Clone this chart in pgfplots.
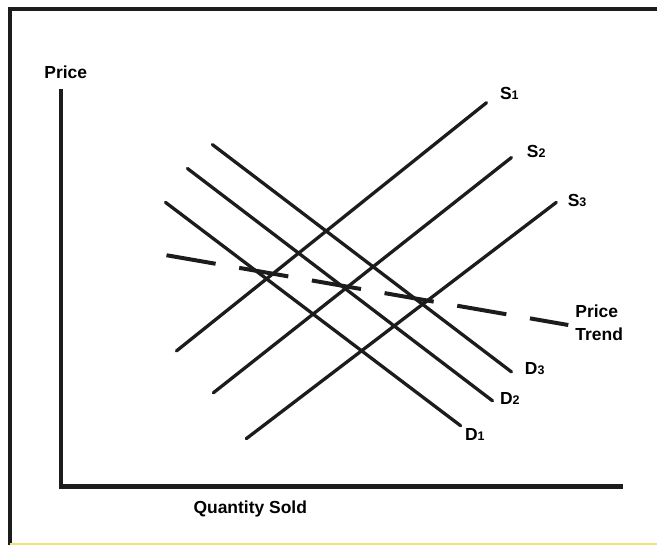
\documentclass[border=0pt]{standalone}
\usepackage{pgfplots}
\pgfplotsset{compat=1.18}
\usepackage{fontspec}
\setmainfont{Liberation Sans}
\definecolor{ink}{HTML}{1C1C1C}
\definecolor{scanyellow}{HTML}{F2E27A}
\newcommand{\lab}{\fontsize{17.5}{23}\selectfont\bfseries}
\newcommand{\sub}[1]{{\fontsize{12.5}{12}\selectfont #1}}
\begin{document}
\begin{tikzpicture}
\begin{axis}[
  hide axis, scale only axis,
  width=659pt, height=547pt,
  xmin=0, xmax=659, ymin=0, ymax=547,
  y dir=reverse, clip=false,
  every axis plot/.append style={ink, line cap=round, no markers},
]
\path (axis cs:0,0) rectangle (axis cs:659,547);
% frame of the scan
\addplot[line width=4pt, line cap=butt] coordinates {(10,547) (10,9) (659,9)};
\addplot[scanyellow, line width=2pt, line cap=butt] coordinates {(10,546) (659,546)};
% axes
\addplot[line width=4.2pt, line cap=butt] coordinates {(61,89) (61,488) (625,488)};
% supply curves
\addplot[line width=3.3pt] coordinates {(177,352) (488,103)};
\addplot[line width=3.3pt] coordinates {(214,394) (513,158)};
\addplot[line width=3.3pt] coordinates {(247,440) (558,203)};
% demand curves
\addplot[line width=3.3pt] coordinates {(213,145) (513,373)};
\addplot[line width=3.3pt] coordinates {(188,169) (494,402)};
\addplot[line width=3.3pt] coordinates {(166,203) (462,427)};
% price trend
\addplot[line width=4pt, line cap=butt, dash pattern=on 50pt off 24pt] coordinates {(167,256) (570,326)};
% labels
\node[anchor=center, font=\lab] at (axis cs:66,72) {Price};
\node[anchor=center, font=\lab] at (axis cs:251,511) {Quantity Sold};
\node[anchor=west, font=\lab] at (axis cs:498,94) {S\sub{1}};
\node[anchor=west, font=\lab] at (axis cs:525,152) {S\sub{2}};
\node[anchor=west, font=\lab] at (axis cs:566,201) {S\sub{3}};
\node[anchor=west, font=\lab] at (axis cs:523,370) {D\sub{3}};
\node[anchor=west, font=\lab] at (axis cs:498,400) {D\sub{2}};
\node[anchor=west, font=\lab] at (axis cs:463,436) {D\sub{1}};
\node[anchor=west, align=left, inner sep=0pt, font=\lab] at (axis cs:577,324) {Price\\Trend};
\end{axis}
\end{tikzpicture}
\end{document}
